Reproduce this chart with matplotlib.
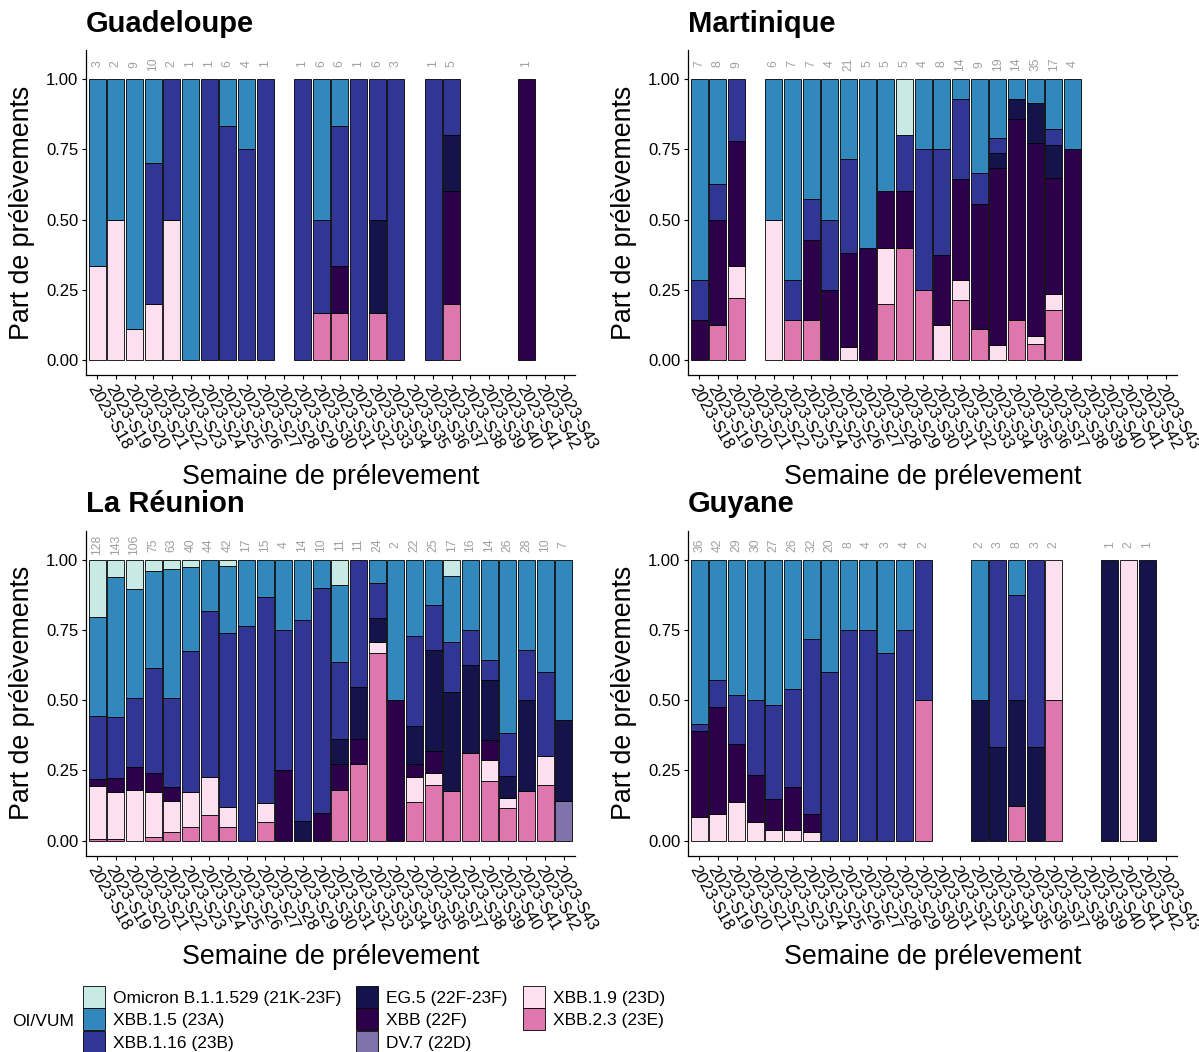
import numpy as np
import matplotlib.pyplot as plt
from matplotlib.patches import Patch

plt.rcParams['font.family'] = ['Liberation Sans', 'DejaVu Sans']

weeks = ['2023-S18', '2023-S19', '2023-S20', '2023-S21', '2023-S22', '2023-S23',
         '2023-S24', '2023-S25', '2023-S26', '2023-S27', '2023-S28', '2023-S29',
         '2023-S30', '2023-S31', '2023-S32', '2023-S33', '2023-S34', '2023-S35',
         '2023-S36', '2023-S37', '2023-S38', '2023-S39', '2023-S40', '2023-S41',
         '2023-S42', '2023-S43']

variants = ['Omicron B.1.1.529 (21K-23F)', 'XBB.1.5 (23A)', 'XBB.1.16 (23B)',
            'EG.5 (22F-23F)', 'XBB (22F)', 'DV.7 (22D)', 'XBB.1.9 (23D)', 'XBB.2.3 (23E)']
colors = ['#c7eae5', '#3288bd', '#313695', '#14134a', '#2d004b', '#8073ac', '#fde0ef', '#de77ae']

zeros = [0] * 26

# sequence counts per week, one list per variant
gua_omicron = zeros
gua_xbb15 = [2, 1, 8, 3, 0, 1, 0, 1, 1, 0, 0, 0, 3, 1, 0, 0, 0, 0, 0, 0, 0, 0, 0, 0, 0, 0]
gua_xbb116 = [0, 0, 0, 5, 1, 0, 1, 5, 3, 1, 0, 1, 2, 3, 1, 3, 3, 0, 1, 1, 0, 0, 0, 0, 0, 0]
gua_eg5 = [0, 0, 0, 0, 0, 0, 0, 0, 0, 0, 0, 0, 0, 0, 0, 2, 0, 0, 0, 1, 0, 0, 0, 0, 0, 0]
gua_xbb = [0, 0, 0, 0, 0, 0, 0, 0, 0, 0, 0, 0, 0, 1, 0, 0, 0, 0, 0, 2, 0, 0, 0, 1, 0, 0]
gua_dv7 = zeros
gua_xbb19 = [1, 1, 1, 2, 1, 0, 0, 0, 0, 0, 0, 0, 0, 0, 0, 0, 0, 0, 0, 0, 0, 0, 0, 0, 0, 0]
gua_xbb23 = [0, 0, 0, 0, 0, 0, 0, 0, 0, 0, 0, 0, 1, 1, 0, 1, 0, 0, 0, 1, 0, 0, 0, 0, 0, 0]

mar_omicron = [0, 0, 0, 0, 0, 0, 0, 0, 0, 0, 0, 1, 0, 0, 0, 0, 0, 0, 0, 0, 0, 0, 0, 0, 0, 0]
mar_xbb15 = [5, 3, 0, 0, 3, 5, 3, 2, 6, 3, 2, 0, 1, 2, 1, 3, 4, 1, 3, 3, 1, 0, 0, 0, 0, 0]
mar_xbb116 = [1, 1, 2, 0, 0, 1, 1, 1, 7, 0, 0, 1, 2, 3, 4, 1, 1, 0, 0, 1, 0, 0, 0, 0, 0, 0]
mar_eg5 = [0, 0, 0, 0, 0, 0, 0, 0, 0, 0, 0, 0, 0, 0, 0, 0, 1, 1, 5, 2, 0, 0, 0, 0, 0, 0]
mar_xbb = [1, 3, 4, 0, 0, 0, 2, 1, 7, 2, 1, 1, 0, 2, 5, 4, 12, 10, 24, 7, 3, 0, 0, 0, 0, 0]
mar_dv7 = zeros
mar_xbb19 = [0, 0, 1, 0, 3, 0, 0, 0, 1, 0, 1, 0, 0, 1, 1, 0, 1, 0, 1, 1, 0, 0, 0, 0, 0, 0]
mar_xbb23 = [0, 1, 2, 0, 0, 1, 1, 0, 0, 0, 1, 2, 1, 0, 3, 1, 0, 2, 2, 3, 0, 0, 0, 0, 0, 0]

reu_omicron = [26, 9, 11, 3, 2, 1, 0, 1, 0, 0, 0, 0, 0, 1, 0, 0, 0, 0, 0, 1, 0, 0, 0, 0, 0, 0]
reu_xbb15 = [45, 71, 41, 26, 29, 12, 8, 10, 4, 2, 1, 3, 1, 3, 0, 2, 1, 6, 4, 4, 4, 5, 16, 9, 4, 4]
reu_xbb116 = [29, 31, 26, 28, 20, 20, 26, 26, 13, 11, 2, 10, 8, 3, 5, 3, 0, 7, 4, 3, 2, 1, 4, 5, 3, 0]
reu_eg5 = [0, 0, 0, 0, 0, 0, 0, 0, 0, 0, 0, 1, 0, 1, 2, 2, 0, 3, 9, 6, 5, 3, 2, 9, 0, 2]
reu_xbb = [3, 7, 9, 5, 3, 0, 0, 0, 0, 0, 1, 0, 1, 1, 1, 0, 1, 1, 2, 0, 0, 1, 0, 0, 0, 0]
reu_dv7 = [0, 0, 0, 0, 0, 0, 0, 0, 0, 0, 0, 0, 0, 0, 0, 0, 0, 0, 0, 0, 0, 0, 0, 0, 0, 1]
reu_xbb19 = [24, 24, 19, 12, 7, 5, 6, 3, 0, 1, 0, 0, 0, 0, 0, 1, 0, 2, 1, 0, 0, 1, 1, 0, 1, 0]
reu_xbb23 = [1, 1, 0, 1, 2, 2, 4, 2, 0, 1, 0, 0, 0, 2, 3, 16, 0, 3, 5, 3, 5, 3, 3, 5, 2, 0]

guy_omicron = zeros
guy_xbb15 = [21, 18, 14, 15, 14, 12, 9, 8, 2, 1, 1, 1, 0, 0, 0, 1, 0, 1, 0, 0, 0, 0, 0, 0, 0, 0]
guy_xbb116 = [1, 4, 5, 8, 9, 9, 20, 12, 6, 3, 2, 3, 1, 0, 0, 0, 2, 3, 2, 0, 0, 0, 0, 0, 0, 0]
guy_eg5 = [0, 0, 0, 0, 0, 0, 0, 0, 0, 0, 0, 0, 0, 0, 0, 1, 1, 3, 1, 0, 0, 0, 1, 0, 1, 0]
guy_xbb = [11, 16, 6, 5, 3, 4, 2, 0, 0, 0, 0, 0, 0, 0, 0, 0, 0, 0, 0, 0, 0, 0, 0, 0, 0, 0]
guy_dv7 = zeros
guy_xbb19 = [3, 4, 4, 2, 1, 1, 1, 0, 0, 0, 0, 0, 0, 0, 0, 0, 0, 0, 0, 1, 0, 0, 0, 2, 0, 0]
guy_xbb23 = [0, 0, 0, 0, 0, 0, 0, 0, 0, 0, 0, 0, 1, 0, 0, 0, 0, 1, 0, 1, 0, 0, 0, 0, 0, 0]

panels = [
    ('Guadeloupe', [gua_omicron, gua_xbb15, gua_xbb116, gua_eg5, gua_xbb, gua_dv7, gua_xbb19, gua_xbb23]),
    ('Martinique', [mar_omicron, mar_xbb15, mar_xbb116, mar_eg5, mar_xbb, mar_dv7, mar_xbb19, mar_xbb23]),
    ('La Réunion', [reu_omicron, reu_xbb15, reu_xbb116, reu_eg5, reu_xbb, reu_dv7, reu_xbb19, reu_xbb23]),
    ('Guyane', [guy_omicron, guy_xbb15, guy_xbb116, guy_eg5, guy_xbb, guy_dv7, guy_xbb19, guy_xbb23]),
]

W, H = 1199, 1052
fig = plt.figure(figsize=(W / 100, H / 100), dpi=100)

# panel boxes in pixels: left, top
boxes = [(86, 50.2), (688, 50.2), (86, 530.9), (688, 530.9)]
aw, ah = 489, 324.6

x = np.arange(len(weeks))
for (name, counts), (left, top) in zip(panels, boxes):
    ax = fig.add_axes([left / W, 1 - (top + ah) / H, aw / W, ah / H])
    counts = np.array(counts, dtype=float)
    total = counts.sum(axis=0)
    share = np.divide(counts, total, out=np.zeros_like(counts), where=total > 0)

    # stack from the last variant (bottom) up to the first (top)
    bottom = np.zeros(len(weeks))
    for i in reversed(range(len(variants))):
        h = share[i]
        m = h > 0
        ax.bar(x[m], h[m], bottom=bottom[m], width=0.9, color=colors[i],
               edgecolor='black', linewidth=0.6)
        bottom += h

    for xi, n in zip(x, total):
        if n > 0:
            ax.text(xi, 1.053, str(int(n)), rotation=90, ha='center', va='center',
                    fontsize=8.8, color='#a0a0a0')

    ax.set_xlim(-0.6, len(weeks) - 0.4)
    ax.set_ylim(-0.0525, 1.1025)
    ax.set_yticks([0, 0.25, 0.5, 0.75, 1.0])
    ax.set_yticklabels(['0.00', '0.25', '0.50', '0.75', '1.00'], fontsize=12)
    ax.set_xticks(x)
    ax.set_xticklabels(weeks, rotation=-60, ha='left', va='top',
                       rotation_mode='anchor', fontsize=12)
    ax.tick_params(direction='out', length=3, width=0.8, colors='black', pad=2.5)
    for s in ['top', 'right']:
        ax.spines[s].set_visible(False)
    for s in ['left', 'bottom']:
        ax.spines[s].set_linewidth(0.9)

    ax.set_title(name, loc='left', fontsize=21, fontweight='bold', pad=13.3)
    ax.set_ylabel('Part de prélèvements', fontsize=19.3)
    ax.yaxis.set_label_coords(-64 / aw, 0.5)
    ax.yaxis.label.set_va('center')
    ax.set_xlabel('Semaine de prélevement', fontsize=19.3)
    ax.xaxis.set_label_coords(0.5, -102 / ah)
    ax.xaxis.label.set_va('center')

handles = [Patch(facecolor=c, edgecolor='black', linewidth=0.6, label=v)
           for v, c in zip(variants, colors)]
fig.legend(handles=handles, ncol=3, loc='upper left', bbox_to_anchor=(83 / W, 1 - 986 / H),
           frameon=False, fontsize=12.5, handlelength=1.27, handleheight=1.57,
           handletextpad=0.46, columnspacing=0.86, labelspacing=0.03,
           borderpad=0, borderaxespad=0)
fig.text(12 / W, 1 - 1021 / H, 'OI/VUM', fontsize=12.5, va='center', ha='left')

fig.savefig('out.png', dpi=100)
